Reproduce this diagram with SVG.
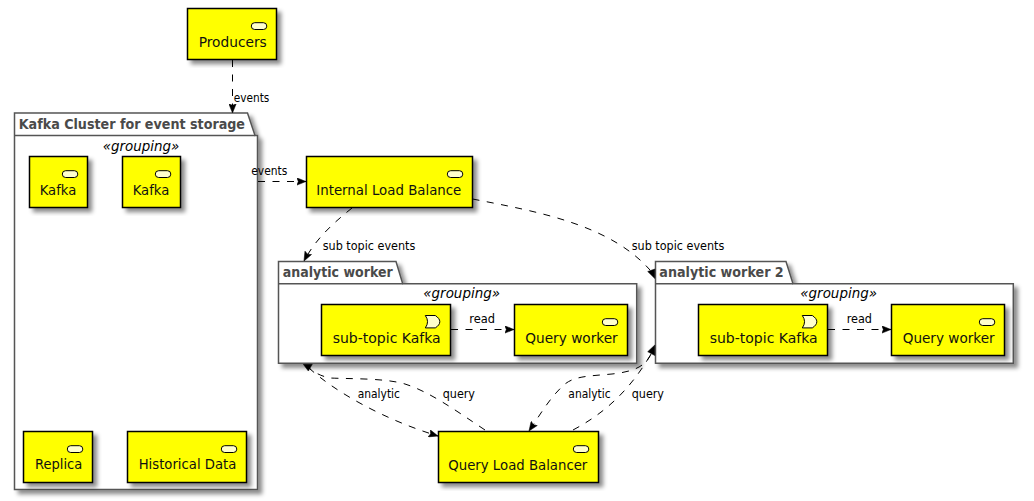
<svg xmlns="http://www.w3.org/2000/svg" width="1034" height="501" viewBox="0 0 1034 501">
<style>
text{font-family:"DejaVu Sans","Liberation Sans",sans-serif;fill:#000}
.n{font-size:14px;fill:#111}
.l{font-size:12px}
.g{font-size:14px;font-style:italic}
.t{font-size:14px;font-weight:bold;fill:#4a4a4a}
.box{fill:#ff0;stroke:#000;stroke-width:1.5;filter:url(#sh)}
.pkg{fill:#fff;stroke:#555;stroke-width:1.5;filter:url(#sh)}
.tab{fill:none;stroke:#555;stroke-width:1.5}
.ic{fill:#ffc;stroke:#000;stroke-width:1}
.e{fill:none;stroke:#000;stroke-width:1;stroke-dasharray:7 7.5}
.h{fill:#000;stroke:#000;stroke-width:.5}
</style>
<defs>
<filter id="sh" x="-10%" y="-10%" width="125%" height="125%">
<feDropShadow dx="4" dy="4" stdDeviation="2.2" flood-color="#000" flood-opacity="0.45"/>
</filter>
<rect id="cmp" x="0" y="0" width="15.500" height="6.800" rx="3.400" ry="3.400" class="ic"/>
<path id="evt" d="M0,0H10C13,2 14.500,4 14.500,6.200C14.500,8.400 13,10.500 10,12.400H0Q4.500,6.200 0,0Z" class="ic"/>
<marker id="a" viewBox="0 0 10 8" refX="9.500" refY="4" markerWidth="10" markerHeight="8" markerUnits="userSpaceOnUse" orient="auto">
<path d="M0.300,0.300L9.500,4L0.300,7.700L1.800,4Z" class="h"/>
</marker>
</defs>

<g id="kafka-cluster">
<path class="pkg" d="M14.500,113H247.500L255,135.500H257.500V489.500H14.500Z"/>
<path class="tab" d="M14.500,135.500H255"/>
<text class="t" x="18.700" y="128.700" textLength="226.300" lengthAdjust="spacingAndGlyphs">Kafka Cluster for event storage</text>
<text class="g" x="102.700" y="150.700" textLength="76.600" lengthAdjust="spacingAndGlyphs">«grouping»</text>
</g>
<g id="analytic-worker">
<path class="pkg" d="M278.500,261.500H396L402.700,283.700H636.700V363.300H278.500Z"/>
<path class="tab" d="M278.500,283.700H402.700"/>
<text class="t" x="282.700" y="276.700" textLength="110" lengthAdjust="spacingAndGlyphs">analytic worker</text>
<text class="g" x="423.300" y="298.300" textLength="76.700" lengthAdjust="spacingAndGlyphs">«grouping»</text>
</g>
<g id="analytic-worker-2">
<path class="pkg" d="M655.500,261.500H786L793,283.700H1013.300V363.300H655.500Z"/>
<path class="tab" d="M655.500,283.700H793"/>
<text class="t" x="659.300" y="276.700" textLength="124.400" lengthAdjust="spacingAndGlyphs">analytic worker 2</text>
<text class="g" x="800.300" y="298.300" textLength="76.700" lengthAdjust="spacingAndGlyphs">«grouping»</text>
</g>

<g id="connectors">
<path class="e" marker-end="url(#a)" d="M232.500,60V113"/>
<path class="e" marker-end="url(#a)" d="M258,181.500H306"/>
<path class="e" marker-end="url(#a)" d="M352,208C332,224 315,240 304,261"/>
<path class="e" d="M472.500,199C540,212 610,225 650,270"/>
<polygon class="h" points="647.700,271.500 654.800,269 654.800,278.500"/>
<path class="e" marker-end="url(#a)" d="M451,329.500H514"/>
<path class="e" marker-end="url(#a)" d="M828,329.500H891"/>
<path class="e" d="M485,430C455,410 430,392 405,384C385,378 350,379 330,378C320,376 314,372 309,368"/>
<path class="e" marker-end="url(#a)" d="M309,368C335,392 385,420 438,436"/>
<polygon class="h" points="303.300,364.300 312.300,364.300 308.300,371"/>
<path class="e" marker-end="url(#a)" d="M651,354C645,368 630,372 612,374C590,376 575,376 565,384C550,397 540,415 529,431"/>
<path class="e" d="M573,430C605,413 630,390 651,354"/>
<polygon class="h" points="647.700,351.700 654.800,345 654.800,355.500"/>
<text class="l" x="233.700" y="101.700" textLength="35.600" lengthAdjust="spacingAndGlyphs">events</text>
<text class="l" x="251.300" y="175" textLength="36" lengthAdjust="spacingAndGlyphs">events</text>
<text class="l" x="322.700" y="250" textLength="92.600" lengthAdjust="spacingAndGlyphs">sub topic events</text>
<text class="l" x="631.700" y="250" textLength="92.600" lengthAdjust="spacingAndGlyphs">sub topic events</text>
<text class="l" x="469.300" y="323" textLength="25.700" lengthAdjust="spacingAndGlyphs">read</text>
<text class="l" x="846.700" y="323" textLength="25.300" lengthAdjust="spacingAndGlyphs">read</text>
<text class="l" x="357.700" y="398" textLength="42.300" lengthAdjust="spacingAndGlyphs">analytic</text>
<text class="l" x="442.700" y="398" textLength="32.300" lengthAdjust="spacingAndGlyphs">query</text>
<text class="l" x="568.300" y="398" textLength="42.400" lengthAdjust="spacingAndGlyphs">analytic</text>
<text class="l" x="631.700" y="398" textLength="32.300" lengthAdjust="spacingAndGlyphs">query</text>
</g>

<g id="producers"><rect class="box" x="187.500" y="8.500" width="89" height="51"/><use href="#cmp" x="251.300" y="22.700"/><text class="n" x="198.700" y="46.700" textLength="68" lengthAdjust="spacingAndGlyphs">Producers</text></g>
<g id="kafka-1"><rect class="box" x="29.500" y="156.500" width="58" height="51"/><use href="#cmp" x="62.300" y="170.700"/><text class="n" x="39.700" y="195" textLength="36.600" lengthAdjust="spacingAndGlyphs">Kafka</text></g>
<g id="kafka-2"><rect class="box" x="122.500" y="156.500" width="58" height="51"/><use href="#cmp" x="155.300" y="170.700"/><text class="n" x="132.700" y="195" textLength="36.600" lengthAdjust="spacingAndGlyphs">Kafka</text></g>
<g id="replica"><rect class="box" x="23.500" y="431.500" width="69" height="51"/><use href="#cmp" x="67.300" y="445.700"/><text class="n" x="35" y="469.300" textLength="47.300" lengthAdjust="spacingAndGlyphs">Replica</text></g>
<g id="historical-data"><rect class="box" x="127.500" y="431.500" width="119" height="51"/><use href="#cmp" x="221.300" y="445.700"/><text class="n" x="138.700" y="469.300" textLength="97.600" lengthAdjust="spacingAndGlyphs">Historical Data</text></g>
<g id="internal-load-balance"><rect class="box" x="306.500" y="156.500" width="166" height="51"/><use href="#cmp" x="447.300" y="170.700"/><text class="n" x="316.300" y="195" textLength="145" lengthAdjust="spacingAndGlyphs">Internal Load Balance</text></g>
<g id="sub-topic-kafka"><rect class="box" x="321.500" y="304.500" width="129" height="51"/><use href="#evt" x="425.300" y="315.500"/><text class="n" x="332.700" y="342.700" textLength="108" lengthAdjust="spacingAndGlyphs">sub-topic Kafka</text></g>
<g id="query-worker"><rect class="box" x="514.500" y="304.500" width="113" height="51"/><use href="#cmp" x="602.300" y="318.700"/><text class="n" x="525.300" y="342.700" textLength="92.400" lengthAdjust="spacingAndGlyphs">Query worker</text></g>
<g id="sub-topic-kafka-2"><rect class="box" x="698.500" y="304.500" width="129" height="51"/><use href="#evt" x="802.300" y="315.500"/><text class="n" x="709.700" y="342.700" textLength="108" lengthAdjust="spacingAndGlyphs">sub-topic Kafka</text></g>
<g id="query-worker-2"><rect class="box" x="891.500" y="304.500" width="113" height="51"/><use href="#cmp" x="979.300" y="318.700"/><text class="n" x="902.700" y="342.700" textLength="92" lengthAdjust="spacingAndGlyphs">Query worker</text></g>
<g id="query-load-balancer"><rect class="box" x="438.500" y="431.500" width="160" height="51"/><use href="#cmp" x="573.300" y="445.700"/><text class="n" x="448.300" y="470" textLength="139" lengthAdjust="spacingAndGlyphs">Query Load Balancer</text></g>
</svg>
